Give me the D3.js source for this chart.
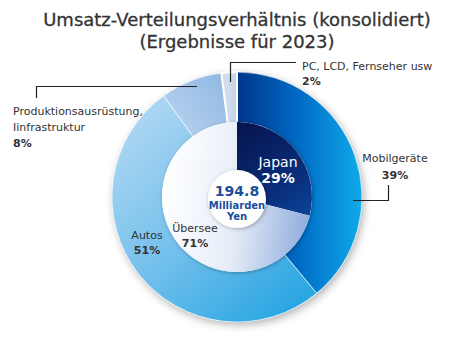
<!DOCTYPE html>
<html><head><meta charset="utf-8">
<script src="https://cdn.jsdelivr.net/npm/d3@7"></script>
<style>body{margin:0;background:#fff;}svg{display:block;font-family:"DejaVu Sans",Verdana,sans-serif;}</style>
</head><body>
<svg id="c" width="470" height="340"></svg>
<script>
const titleLines = ["Umsatz-Verteilungsverhältnis (konsolidiert)", "(Ergebnisse für 2023)"];
const outerCategories = ["Mobilgeräte", "Autos", "Produktionsausrüstung, Iinfrastruktur", "PC, LCD, Fernseher usw"];
const outerValues = [39, 51, 8, 2];
const innerCategories = ["Japan", "Übersee"];
const innerValues = [29, 71];
const totalValue = "194.8";
const totalUnit = ["Milliarden", "Yen"];

const svg = d3.select("#c");
const cx = 237, cy = 197, rOuter = 125, rInner = 75, rCenter = 29;
const defs = svg.append("defs");

const f = defs.append("filter").attr("id","sh").attr("x","-20%").attr("y","-20%").attr("width","140%").attr("height","140%");
f.append("feDropShadow").attr("dx",2).attr("dy",3).attr("stdDeviation",4).attr("flood-color","#000").attr("flood-opacity",0.3);
const f2 = defs.append("filter").attr("id","sh2").attr("x","-30%").attr("y","-30%").attr("width","160%").attr("height","160%");
f2.append("feDropShadow").attr("dx",1).attr("dy",1).attr("stdDeviation",2).attr("flood-color","#000").attr("flood-opacity",0.3);

// gradient coordinates relative to the donut centre
function lg(id, x1,y1,x2,y2, stops){
  const g = defs.append("linearGradient").attr("id",id).attr("gradientUnits","userSpaceOnUse")
    .attr("x1",x1).attr("y1",y1).attr("x2",x2).attr("y2",y2);
  stops.forEach(s=>g.append("stop").attr("offset",s[0]).attr("stop-color",s[1]));
}
lg("gMob", 0, 0, rOuter, 0, [[0,"#00358a"],[0.5,"#006cc6"],[1,"#10aae8"]]);
lg("gAut", -rOuter, -60, 40, rOuter, [[0,"#acd6f2"],[0.5,"#74c0ec"],[1,"#2aa6e2"]]);
lg("gPro", -95, -50, -10, -rOuter, [[0,"#c8def4"],[1,"#8eb6e2"]]);
lg("gPC", -10, -rOuter, 0, -rOuter, [[0,"#d2deec"],[1,"#c4d4e6"]]);
lg("gJap", 0, -rInner, rInner, 30, [[0,"#06144c"],[0.6,"#0a2d7a"],[1,"#0c4aa0"]]);
lg("gUeb", -rInner, 0, rInner, 20, [[0,"#ffffff"],[0.5,"#e6edf8"],[1,"#8eaadc"]]);

const outerFills = ["url(#gMob)","url(#gAut)","url(#gPro)","url(#gPC)"];
const innerFills = ["url(#gJap)","url(#gUeb)"];

const pie = d3.pie().sort(null).value(d=>d);
const g = svg.append("g").attr("transform",`translate(${cx},${cy})`);

g.append("circle").attr("r",rOuter).attr("fill","#fff").attr("filter","url(#sh)");
const arcO = d3.arc().innerRadius(0).outerRadius(rOuter);
g.selectAll("path.o").data(pie(outerValues)).join("path").attr("class","o")
  .attr("d",arcO).attr("fill",(d,i)=>outerFills[i]).attr("stroke","#fff").attr("stroke-width",(d,i)=>i===3?2:0.6);

const arcI = d3.arc().innerRadius(0).outerRadius(rInner);
g.append("circle").attr("r",rInner).attr("fill","#fff").attr("filter","url(#sh2)");
g.selectAll("path.i").data(pie(innerValues)).join("path").attr("class","i")
  .attr("d",arcI).attr("fill",(d,i)=>innerFills[i]);

g.append("circle").attr("cy",2).attr("r",rCenter).attr("fill","#fff").attr("filter","url(#sh2)");

// title
svg.append("g").selectAll("text").data(titleLines).join("text")
  .attr("x",237).attr("y",(d,i)=>26+i*22).attr("text-anchor","middle")
  .attr("font-size",18).attr("fill","#333").attr("stroke","#333").attr("stroke-width",0.3).text(d=>d);

const lab = svg.append("g").attr("font-size",11).attr("fill","#333");
function multi(x,y,lines,anchor,opts){
  const t = lab.append("text").attr("x",x).attr("y",y).attr("text-anchor",anchor||"start");
  if(opts&&opts.fill) t.attr("fill",opts.fill);
  if(opts&&opts.size) t.attr("font-size",opts.size);
  if(opts&&opts.weight) t.attr("font-weight",opts.weight);
  lines.forEach((l,i)=>t.append("tspan").attr("x",x).attr("dy",i?(opts&&opts.lh||16):0)
    .attr("font-weight",(opts&&opts.boldLast&&i===lines.length-1)?"bold":null).text(l));
}
const lineG = svg.append("g").attr("fill","none").attr("stroke","#222").attr("stroke-width",1.2);

// PC label
multi(302,70,[outerCategories[3], outerValues[3]+"%"],"start",{boldLast:true,lh:15});
lineG.append("path").attr("d","M230.5,82V62.5H296");
// Produktion
multi(13,115,["Produktionsausrüstung,","Iinfrastruktur", outerValues[2]+"%"],"start",{boldLast:true,lh:16});
lineG.append("path").attr("d","M36.5,98V86.5H197");
// Mobil
multi(395,162,[outerCategories[0], outerValues[0]+"%"],"middle",{boldLast:true,lh:17});
lineG.append("path").attr("d","M353,200.5H388.5V185");
// Autos
multi(147,239,[outerCategories[1], outerValues[1]+"%"],"middle",{boldLast:true,lh:15});
// Japan
multi(278,167,[innerCategories[0], innerValues[0]+"%"],"middle",{fill:"#fff",size:14,boldLast:true,lh:16});
// Übersee
multi(195,232,[innerCategories[1], innerValues[1]+"%"],"middle",{boldLast:true,lh:15});
// center
lab.append("text").attr("x",cx).attr("y",196).attr("text-anchor","middle").attr("fill","#1a4fa0")
  .attr("font-size",14).attr("font-weight","bold").text(totalValue);
multi(cx,209,totalUnit,"middle",{fill:"#1a4fa0",size:10,weight:"bold",lh:11});
</script>
</body></html>
